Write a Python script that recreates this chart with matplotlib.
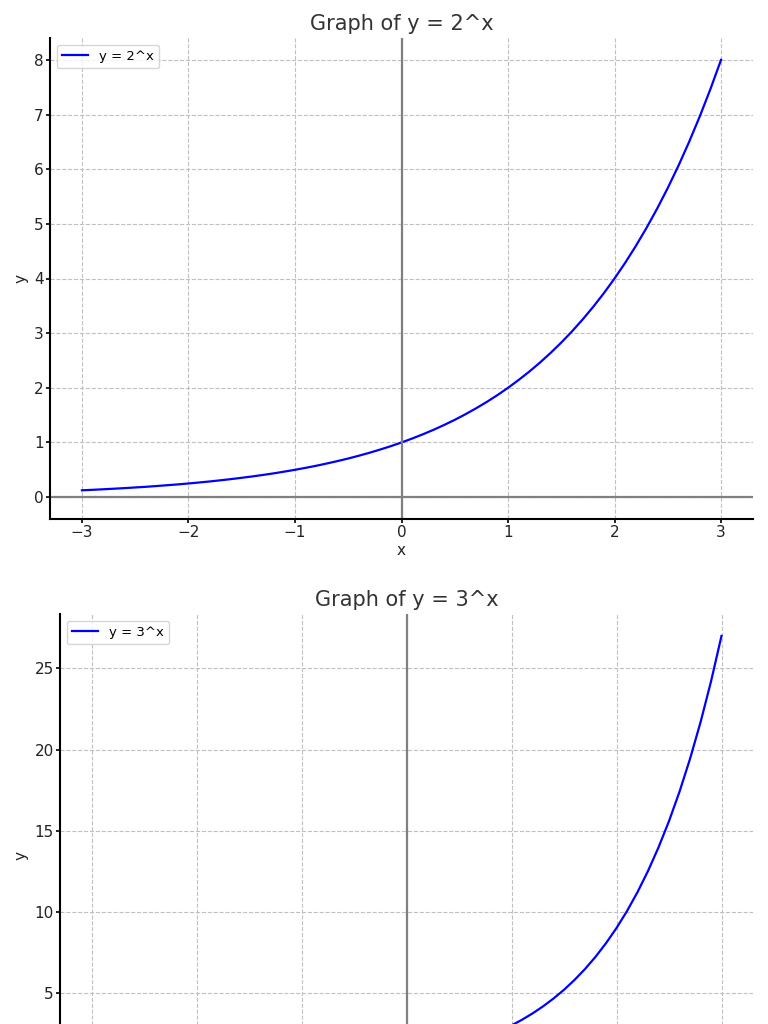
import matplotlib.pyplot as plt

# values (step 0.1)
x_vals = [round(-3 + 0.1 * i, 1) for i in range(61)]
y_two = [0.125, 0.134, 0.144, 0.154, 0.165, 0.177, 0.189, 0.203, 0.218, 0.233,
         0.25, 0.268, 0.287, 0.308, 0.330, 0.354, 0.379, 0.406, 0.435, 0.467,
         0.5, 0.536, 0.574, 0.616, 0.660, 0.707, 0.758, 0.812, 0.871, 0.933,
         1.0, 1.072, 1.149, 1.231, 1.320, 1.414, 1.516, 1.625, 1.741, 1.866,
         2.0, 2.144, 2.297, 2.462, 2.639, 2.828, 3.031, 3.249, 3.482, 3.732,
         4.0, 4.287, 4.595, 4.925, 5.278, 5.657, 6.063, 6.498, 6.964, 7.464, 8.0]
y_three = [0.037, 0.041, 0.046, 0.051, 0.057, 0.064, 0.072, 0.080, 0.089, 0.100,
           0.111, 0.124, 0.138, 0.154, 0.172, 0.192, 0.215, 0.240, 0.268, 0.299,
           0.333, 0.372, 0.415, 0.463, 0.517, 0.577, 0.644, 0.719, 0.803, 0.896,
           1.0, 1.116, 1.246, 1.390, 1.552, 1.732, 1.933, 2.158, 2.408, 2.688,
           3.0, 3.348, 3.737, 4.171, 4.656, 5.196, 5.800, 6.473, 7.225, 8.064,
           9.0, 10.045, 11.212, 12.514, 13.967, 15.588, 17.399, 19.419, 21.674, 24.191, 27.0]
titles = ['Graph of y = 2^x', 'Graph of y = 3^x']
labels = ['y = 2^x', 'y = 3^x']

fig = plt.figure(figsize=(7.68, 10.24), dpi=100)
W, H = 768., 1024.
ax1 = fig.add_axes([50/W, (H-519)/H, 703/W, 481/H])
# second panel runs off the bottom of the picture, as in the original
ax2 = fig.add_axes([60/W, (H-1096)/H, 693/W, 482/H])

for ax, ys, t, lab in zip([ax1, ax2], [y_two, y_three], titles, labels):
    ax.plot(x_vals, ys, color='blue', linewidth=1.6, label=lab)
    ax.axhline(0, color='gray', linewidth=1.6)
    ax.axvline(0, color='gray', linewidth=1.6)
    lo, hi = min(0, min(ys)), max(ys)
    pad = 0.05 * (hi - lo)
    ax.set_ylim(lo - pad, hi + pad)
    ax.set_xlim(-3.3, 3.3)
    ax.set_title(t, fontsize=15, color='#333333')
    ax.set_xlabel('x', fontsize=11, labelpad=2, color='#222222')
    ax.set_ylabel('y', fontsize=11, labelpad=4, color='#222222')
    ax.grid(True, linestyle='--', color='#c0c0c0', linewidth=0.8)
    ax.spines['top'].set_visible(False)
    ax.spines['right'].set_visible(False)
    ax.spines['left'].set_linewidth(1.5)
    ax.spines['bottom'].set_linewidth(1.5)
    ax.tick_params(labelsize=11, width=1.2, length=3, pad=1.5, labelcolor='#222222')
    ax.legend(loc='upper left', fontsize=9.5)

plt.savefig('out.png', dpi=100)
